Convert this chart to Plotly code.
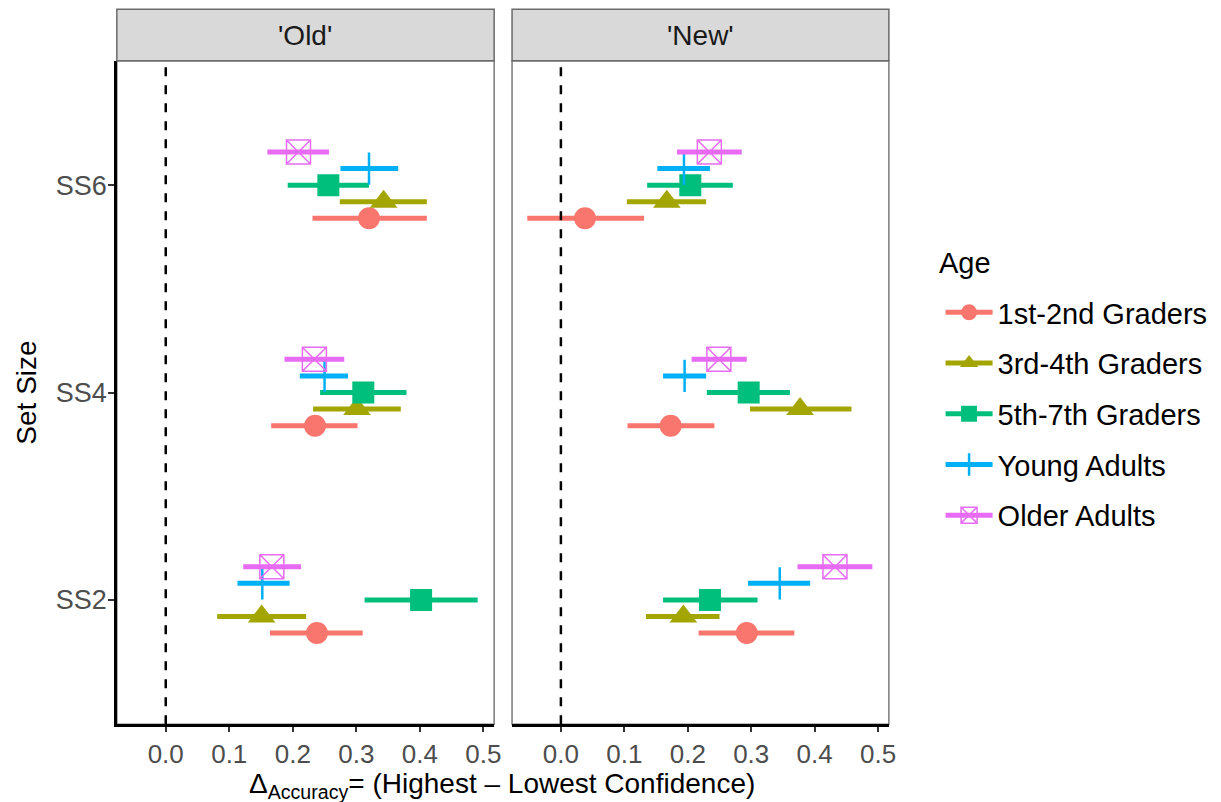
import plotly.graph_objects as go

# ---------------- data ----------------
set_sizes = ["SS2", "SS4", "SS6"]
age_groups = ["1st-2nd Graders", "3rd-4th Graders", "5th-7th Graders",
              "Young Adults", "Older Adults"]
panels = ["'Old'", "'New'"]

# rows follow age_groups, columns follow set_sizes (SS2, SS4, SS6)
old_est = [[0.238, 0.235, 0.320],
           [0.151, 0.301, 0.343],
           [0.402, 0.311, 0.256],
           [0.152, 0.250, 0.320],
           [0.167, 0.234, 0.209]]
old_lo = [[0.164, 0.166, 0.231],
          [0.081, 0.232, 0.274],
          [0.313, 0.243, 0.192],
          [0.113, 0.211, 0.275],
          [0.122, 0.187, 0.160]]
old_hi = [[0.310, 0.302, 0.411],
          [0.221, 0.370, 0.411],
          [0.491, 0.379, 0.320],
          [0.195, 0.287, 0.366],
          [0.213, 0.281, 0.257]]

new_est = [[0.293, 0.173, 0.038],
           [0.193, 0.377, 0.167],
           [0.235, 0.296, 0.204],
           [0.345, 0.195, 0.194],
           [0.432, 0.249, 0.234]]
new_lo = [[0.217, 0.105, -0.053],
          [0.134, 0.298, 0.104],
          [0.161, 0.230, 0.136],
          [0.295, 0.161, 0.152],
          [0.373, 0.206, 0.183]]
new_hi = [[0.368, 0.242, 0.131],
          [0.250, 0.458, 0.229],
          [0.310, 0.361, 0.271],
          [0.393, 0.229, 0.235],
          [0.491, 0.293, 0.285]]

x_ticks = [0.0, 0.1, 0.2, 0.3, 0.4, 0.5]

# ---------------- style ----------------
colors = ["#F8766D", "#A3A500", "#00BF7D", "#00B0F6", "#E76BF3"]
symbols = ["circle", "triangle-up", "square", "cross-thin-open", "square-x-open"]
msizes = [22, 24, 22, 23, 24]
mlines = [0, 0, 0, 2.5, 1.5]
FONT = "Liberation Sans, Arial, sans-serif"
W, H = 1221, 802

def px_x(p):
    return p / W

def px_y(p):
    return 1 - p / H

fig = go.Figure()

panel_data = [(old_est, old_lo, old_hi, "x", "y"),
              (new_est, new_lo, new_hi, "x2", "y2")]
n = len(age_groups)
for est, lo, hi, xa, ya in panel_data:
    for gi in range(n):
        off = (gi - (n - 1) / 2) * 0.08
        ys = [k + 1 + off for k in range(len(set_sizes))]
        e = est[gi]
        fig.add_trace(go.Scatter(
            x=e, y=ys, xaxis=xa, yaxis=ya, mode="markers",
            showlegend=False, name=age_groups[gi],
            marker=dict(symbol=symbols[gi], size=msizes[gi], color=colors[gi],
                        line=dict(width=mlines[gi], color=colors[gi])),
            error_x=dict(type="data", symmetric=False,
                         array=[h - v for h, v in zip(hi[gi], e)],
                         arrayminus=[v - l for v, l in zip(e, lo[gi])],
                         thickness=5, width=0, color=colors[gi]),
        ))

# legend entries
for gi in range(n):
    fig.add_trace(go.Scatter(
        x=[None], y=[None], xaxis="x", yaxis="y", mode="lines+markers",
        name=age_groups[gi], legendgroup=age_groups[gi],
        line=dict(color=colors[gi], width=5),
        marker=dict(symbol=symbols[gi], size=msizes[gi], color=colors[gi],
                    line=dict(width=mlines[gi], color=colors[gi])),
    ))

y_dom = [px_y(724.3), px_y(60.7)]
xrange = [-0.077, 0.517]
common_x = dict(range=xrange, tickvals=x_ticks, tickformat=".1f",
                ticks="outside", ticklen=5, tickwidth=1.5, tickcolor="#333333",
                tickfont=dict(size=26, color="#4D4D4D", family=FONT),
                showline=True, linecolor="black", linewidth=2.5,
                showgrid=False, zeroline=False)

fig.update_layout(
    width=W, height=H,
    margin=dict(l=0, r=0, t=0, b=0),
    paper_bgcolor="white", plot_bgcolor="white",
    font=dict(family=FONT, size=28, color="black"),
    xaxis=dict(domain=[px_x(117.5), px_x(497)], anchor="y", **common_x),
    xaxis2=dict(domain=[px_x(515), px_x(894)], anchor="y2", matches="x", **common_x),
    yaxis=dict(domain=y_dom, anchor="x", range=[0.4, 3.6],
               tickvals=[1, 2, 3], ticktext=set_sizes,
               ticks="outside", ticklen=6, tickwidth=1.5, tickcolor="#333333",
               tickfont=dict(size=27, color="#4D4D4D", family=FONT),
               ticklabelstandoff=-4,
               showline=True, linecolor="black", linewidth=2.5,
               showgrid=False, zeroline=False,
               title=dict(text="Set Size", font=dict(size=28, color="black"), standoff=11)),
    yaxis2=dict(domain=y_dom, anchor="x2", matches="y", range=[0.4, 3.6],
                showticklabels=False, ticks="", showgrid=False, zeroline=False),
    legend=dict(x=px_x(946), y=px_y(287), xanchor="left", yanchor="top",
                font=dict(size=29, color="black"), traceorder="grouped",
                tracegroupgap=10, itemwidth=47, bgcolor="rgba(0,0,0,0)"),
)

# legend title as text
fig.add_annotation(text="Age", xref="paper", yref="paper",
                   x=px_x(942), y=px_y(263), xanchor="left", yanchor="middle",
                   showarrow=False, font=dict(size=29, color="black"))

# panel borders, strips and zero lines
for xa, ya, label in [("x", "y", panels[0]), ("x2", "y2", panels[1])]:
    fig.add_shape(type="rect", xref=f"{xa} domain", yref=f"{ya} domain",
                  x0=0, x1=1, y0=0, y1=1, line=dict(color="#7a7a7a", width=1.5),
                  layer="below")
    fig.add_shape(type="rect", xref=f"{xa} domain", yref="paper",
                  x0=0, x1=1, y0=px_y(60.7), y1=px_y(9.3),
                  line=dict(color="#6a6a6a", width=1.5), fillcolor="#D9D9D9")
    fig.add_annotation(text=label, xref=f"{xa} domain", yref="paper",
                       x=0.5, y=px_y(35), xanchor="center", yanchor="middle",
                       showarrow=False, font=dict(size=28, color="#1A1A1A"))
    fig.add_shape(type="line", xref=xa, yref=f"{ya} domain",
                  x0=0, x1=0, y0=0, y1=1,
                  line=dict(color="black", width=2.5, dash="9px,9px"), layer="above")

fig.add_annotation(text="Δ<sub>Accuracy</sub>= (Highest – Lowest Confidence)",
                   xref="paper", yref="paper", x=px_x(505), y=px_y(785),
                   xanchor="center", yanchor="middle",
                   showarrow=False, font=dict(size=28, color="black"))

fig.write_html("out.html")
